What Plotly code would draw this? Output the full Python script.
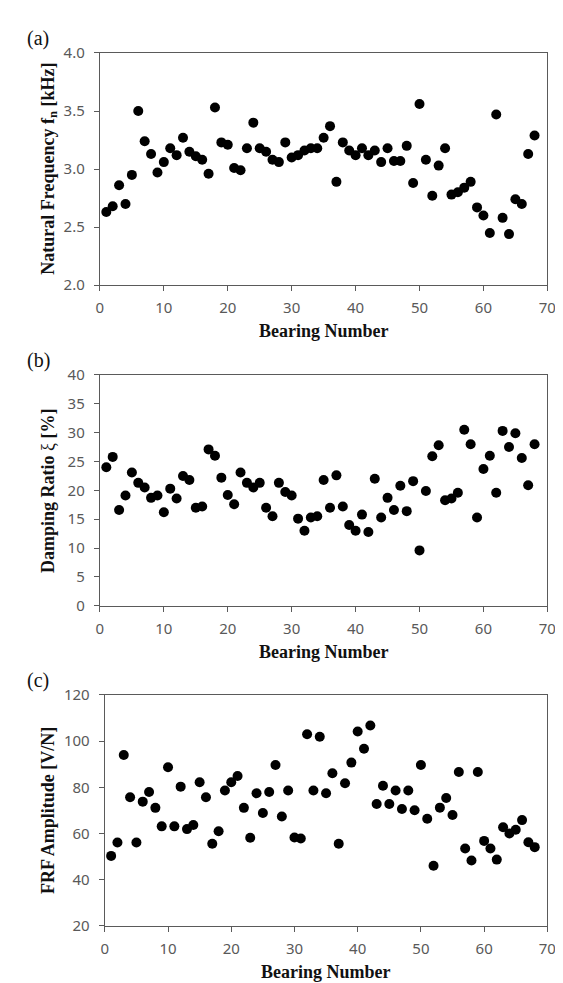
import plotly.graph_objects as go

bearing = list(range(1, 69))

nat_freq = [2.63, 2.68, 2.86, 2.70, 2.95, 3.50, 3.24, 3.13, 2.97, 3.06,
            3.18, 3.12, 3.27, 3.15, 3.11, 3.08, 2.96, 3.53, 3.23, 3.21,
            3.01, 2.99, 3.18, 3.40, 3.18, 3.15, 3.08, 3.06, 3.23, 3.10,
            3.12, 3.16, 3.18, 3.18, 3.27, 3.37, 2.89, 3.23, 3.16, 3.12,
            3.18, 3.12, 3.16, 3.06, 3.18, 3.07, 3.07, 3.20, 2.88, 3.56,
            3.08, 2.77, 3.03, 3.18, 2.78, 2.80, 2.84, 2.89, 2.67, 2.60,
            2.45, 3.47, 2.58, 2.44, 2.74, 2.70, 3.13, 3.29]

damping = [24.0, 25.8, 16.6, 19.1, 23.1, 21.3, 20.5, 18.7, 19.1, 16.2,
           20.3, 18.6, 22.5, 21.8, 17.0, 17.2, 27.1, 26.0, 22.2, 19.2,
           17.6, 23.1, 21.3, 20.5, 21.3, 17.0, 15.5, 21.3, 19.7, 19.1,
           15.1, 13.0, 15.3, 15.5, 21.8, 17.0, 22.6, 17.2, 14.0, 13.0,
           15.8, 12.8, 22.0, 15.3, 18.7, 16.6, 20.8, 16.4, 21.6, 9.6,
           19.9, 25.9, 27.8, 18.3, 18.6, 19.6, 30.5, 28.0, 15.3, 23.7,
           26.0, 19.6, 30.3, 27.5, 29.9, 25.6, 20.9, 28.0]

frf_amp = [50.3, 56.1, 94.0, 75.7, 56.1, 73.8, 78.0, 71.1, 63.1, 88.7,
           63.1, 80.3, 61.9, 63.7, 82.2, 75.7, 55.6, 61.0, 78.6, 82.2,
           84.9, 71.1, 58.2, 77.4, 68.9, 78.0, 89.7, 67.4, 78.6, 58.3,
           57.8, 103.0, 78.6, 101.9, 77.4, 86.1, 55.6, 81.8, 90.7, 104.2,
           96.7, 106.8, 72.8, 80.7, 72.8, 78.6, 70.6, 78.6, 70.1, 89.7,
           66.4, 46.0, 71.2, 75.4, 68.0, 86.6, 53.5, 48.3, 86.6, 56.8,
           53.5, 48.7, 62.7, 60.0, 61.6, 65.8, 56.2, 54.1]

W, H = 563, 983
AX = "#5a5a5a"
TICKFONT = dict(family="Noto Sans, DejaVu Sans, sans-serif", size=15, color="#595959")
TITLEFONT = dict(family="Liberation Serif, Times New Roman, serif", size=18, color="#111111")


def px_x(v):
    return v / W


def px_y(v):
    return 1 - v / H


panels = [
    # (y data, y range, dtick, tickformat, x-left px, top px, bottom px, ytitle, label)
    (nat_freq, [2.0, 4.0], 0.5, ".1f", 90, 34.7, 271.7,
     "<b>Natural Frequency f<sub>n</sub> [kHz]</b>", "(a)"),
    (damping, [0, 40], 5, "d", 90, 363.3, 599.0,
     "<b>Damping Ratio </b>ξ<b> [%]</b>", "(b)"),
    (frf_amp, [20, 120], 20, "d", 95, 690.0, 925.7,
     "<b>FRF Amplitude [V/N]</b>", "(c)"),
]

fig = go.Figure()
annotations = []
layout = {}
right_px = 548
for i, (yd, yr, dt, fmt, lpx, tpx, bpx, ytitle, lab) in enumerate(panels):
    n = "" if i == 0 else str(i + 1)
    fig.add_trace(go.Scatter(
        x=bearing, y=yd, mode="markers",
        marker=dict(color="black", size=10, line=dict(width=0)),
        xaxis="x" + n, yaxis="y" + n, showlegend=False,
    ))
    common = dict(showline=True, linecolor=AX, linewidth=1.3, mirror=True,
                  ticks="outside", ticklen=5, tickwidth=1.3, tickcolor=AX,
                  showgrid=False, zeroline=False, tickfont=TICKFONT)
    layout["xaxis" + n] = dict(domain=[px_x(lpx), px_x(right_px)], anchor="y" + n,
                               range=[0, 70], dtick=10, tick0=0,
                               ticklabelstandoff=4, **common)
    layout["yaxis" + n] = dict(domain=[px_y(bpx), px_y(tpx)], anchor="x" + n,
                               range=yr, dtick=dt, tick0=yr[0], tickformat=fmt,
                               ticklabelstandoff=6, **common)
    cx = (lpx + right_px) / 2
    annotations.append(dict(text="<b>Bearing Number</b>", x=px_x(cx), y=px_y(bpx + 47),
                            xref="paper", yref="paper", showarrow=False,
                            xanchor="center", yanchor="middle", font=TITLEFONT))
    annotations.append(dict(text=ytitle, x=px_x(37.5), y=px_y((tpx + bpx) / 2),
                            xref="paper", yref="paper", showarrow=False, textangle=-90,
                            xanchor="center", yanchor="middle", font=TITLEFONT))
    annotations.append(dict(text=lab, x=px_x(13), y=px_y(tpx - 14.5),
                            xref="paper", yref="paper", showarrow=False,
                            xanchor="left", yanchor="middle",
                            font=dict(family="Liberation Serif, serif", size=20, color="#111111")))

fig.update_layout(
    width=W, height=H,
    margin=dict(l=0, r=0, t=0, b=0),
    paper_bgcolor="white", plot_bgcolor="white",
    annotations=annotations,
    **layout,
)

fig.write_html("out.html")
